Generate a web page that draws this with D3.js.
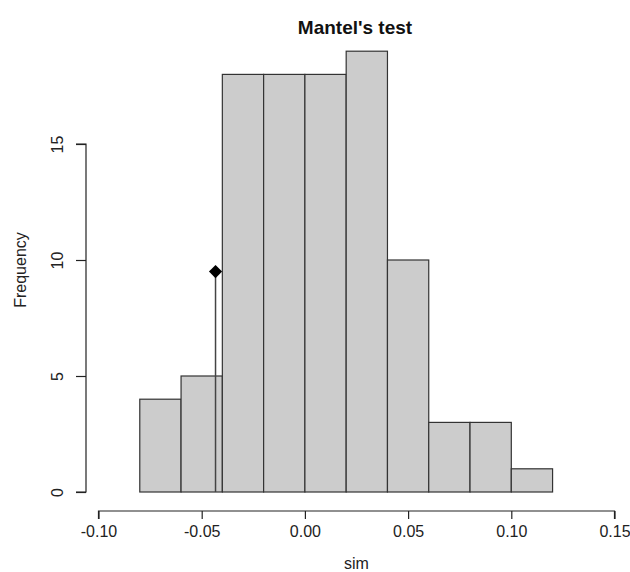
<!DOCTYPE html>
<html>
<head>
<meta charset="utf-8">
<script src="https://cdn.jsdelivr.net/npm/d3@7"></script>
<style>
  body { margin: 0; background: #fff; }
  svg { display: block; font-family: "Liberation Sans", Arial, sans-serif; }
</style>
</head>
<body>
<div id="chart"></div>
<script>
// histogram of simulated values
const binStarts = [-0.08, -0.06, -0.04, -0.02, 0.00, 0.02, 0.04, 0.06, 0.08, 0.10]
const binWidth = 0.02
const counts = [4, 5, 18, 18, 18, 19, 10, 3, 3, 1]
const xTicks = [-0.10, -0.05, 0.00, 0.05, 0.10, 0.15]
const yTicks = [0, 5, 10, 15]
const observed = -0.0433
const observedHeight = 9.5

const width = 630
const height = 572

const svg = d3.select("#chart").append("svg")
    .attr("width", width)
    .attr("height", height)

// pixel positions
const x = d3.scaleLinear().domain([-0.10, 0.15]).range([98.5, 614.5])
const y = d3.scaleLinear().domain([0, 15]).range([492, 144])

const bars = binStarts.map((s, i) => ({x0: s, x1: s + binWidth, n: counts[i]}))

svg.append("g")
    .selectAll("rect")
    .data(bars)
    .enter()
    .append("rect")
    .attr("x", d => x(d.x0))
    .attr("y", d => y(d.n))
    .attr("width", d => x(d.x1) - x(d.x0))
    .attr("height", d => y(0) - y(d.n))
    .style("fill", "#cccccc")
    .style("stroke", "#333")
    .style("stroke-width", 1.2)

// observed value
svg.append("line")
    .attr("x1", x(observed))
    .attr("x2", x(observed))
    .attr("y1", y(0))
    .attr("y2", y(observedHeight))
    .style("stroke", "#444")
    .style("stroke-width", 1.5)

svg.append("path")
    .attr("d", d3.symbol().type(d3.symbolDiamond2).size(110)())
    .attr("transform", "translate(" + x(observed) + "," + y(observedHeight) + ")")
    .style("fill", "#000")

// x axis
const xAxis = svg.append("g")
    .attr("transform", "translate(0,511)")
    .call(d3.axisBottom(x).tickValues(xTicks).tickFormat(d => d.toFixed(2)).tickSize(8).tickPadding(7))
xAxis.select(".domain").attr("d", "M" + x(-0.10) + ",8V0H" + x(0.15) + "V8").style("stroke", "#222").style("stroke-width", 1.2)
xAxis.selectAll(".tick line").style("stroke", "#222").style("stroke-width", 1.2)
xAxis.selectAll("text").style("font-size", "16px").style("fill", "#222")
    .attr("font-family", "Liberation Sans, Arial, sans-serif")

// y axis
const yAxis = svg.append("g")
    .attr("transform", "translate(86,0)")
    .call(d3.axisLeft(y).tickValues(yTicks).tickSize(10).tickPadding(0))
yAxis.select(".domain").attr("d", "M-10," + y(15) + "H0V" + y(0) + "H-10").style("stroke", "#222").style("stroke-width", 1.2)
yAxis.selectAll(".tick line").style("stroke", "#222").style("stroke-width", 1.2)
yAxis.selectAll("text")
    .attr("x", null).attr("dy", null)
    .attr("transform", "translate(-23,0) rotate(-90)")
    .attr("text-anchor", "middle")
    .attr("font-family", "Liberation Sans, Arial, sans-serif")
    .style("font-size", "16px").style("fill", "#222")

// labels
svg.append("text")
    .attr("x", 355)
    .attr("y", 34)
    .attr("text-anchor", "middle")
    .style("font-size", "19px")
    .style("font-weight", "bold")
    .style("fill", "#111")
    .text("Mantel's test")

svg.append("text")
    .attr("x", x(0.025))
    .attr("y", 569)
    .attr("text-anchor", "middle")
    .style("font-size", "16px")
    .style("fill", "#222")
    .text("sim")

svg.append("text")
    .attr("transform", "translate(26,270) rotate(-90)")
    .attr("text-anchor", "middle")
    .style("font-size", "16px")
    .style("fill", "#222")
    .text("Frequency")
</script>
</body>
</html>
